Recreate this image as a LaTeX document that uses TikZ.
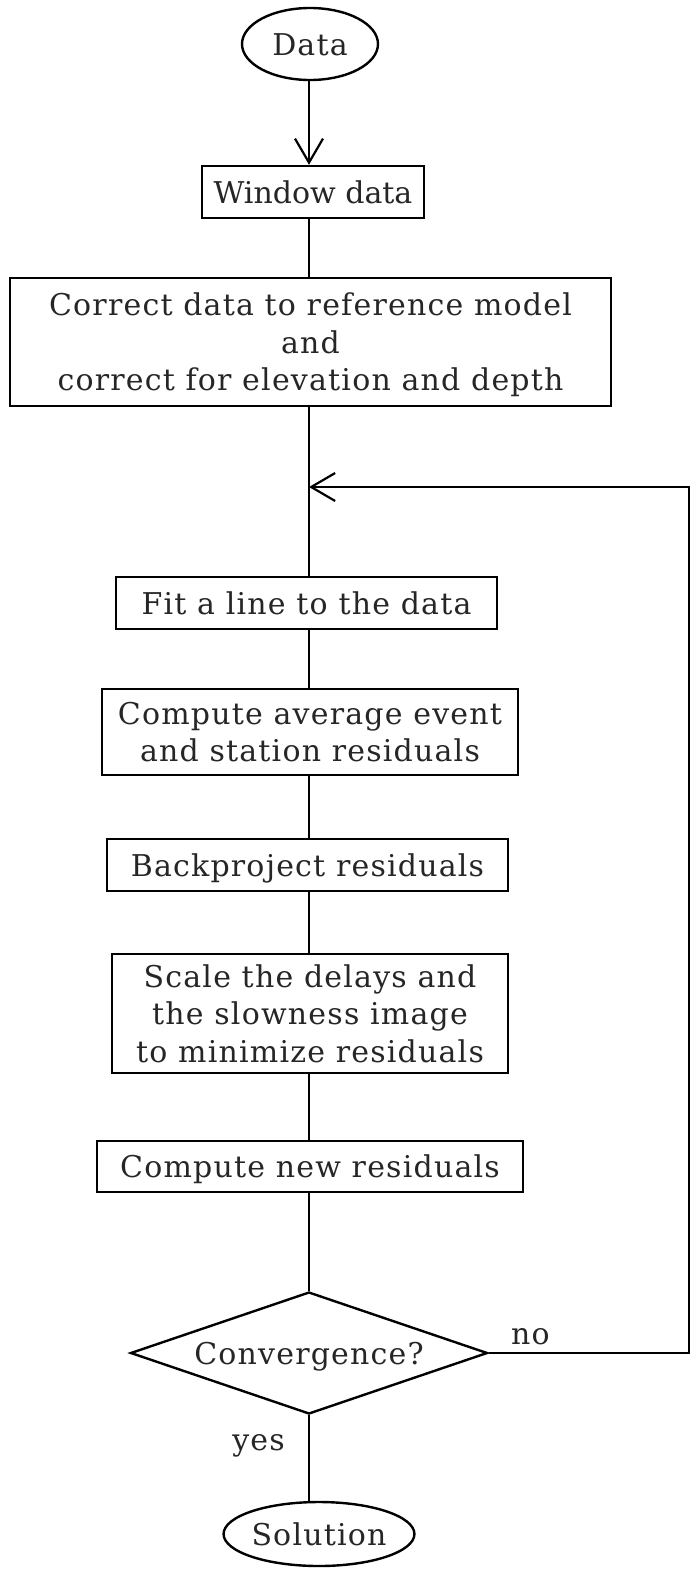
\documentclass[tikz,border=0pt]{standalone}
\usepackage{fontspec}
\setmainfont[LetterSpace=4]{DejaVu Serif}
\usetikzlibrary{shapes.geometric,arrows.meta}
\begin{document}
\begin{tikzpicture}[x=1pt,y=-1pt,
  every node/.style={font=\fontsize{30}{37.5}\selectfont, inner sep=0pt, text=black!85},
  oneline/.style={text height=22pt, text depth=0pt},
  twoline/.style={text height=59.5pt, text depth=0pt},
  threeline/.style={text height=97pt, text depth=0pt},
  tight/.style={font=\fontsize{30}{37.5}\selectfont\addfontfeature{LetterSpace=0}},
  stepbox/.style={draw=black, rectangle, line width=2.4pt, align=center},
  terminal/.style={draw=black, ellipse, line width=2.4pt, oneline},
  decision/.style={draw=black, diamond, aspect=2.93, line width=2.4pt, oneline},
  link/.style={draw=black, line width=2.2pt},
  arr/.style={link, -{Straight Barb[length=24pt,width=28pt,line width=2.2pt]}}]
\useasboundingbox (0,0) rectangle (691,1569);
% spine
\coordinate (sp) at (309,0);
% nodes
\node[terminal, minimum width=136pt, minimum height=72pt] (data) at (310,44) {Data};
\node[stepbox, oneline, tight, minimum width=222pt, minimum height=52pt] (win) at (313,192) {Window data};
\node[stepbox, threeline, minimum width=601pt, minimum height=128pt] (corr) at (310.5,342)
  {Correct data to reference model\\and\\correct for elevation and depth};
\node[stepbox, oneline, minimum width=381pt, minimum height=52pt] (fit) at (306.5,603) {Fit a line to the data};
\node[stepbox, twoline, minimum width=416pt, minimum height=86pt] (avg) at (310,732)
  {Compute average event\\and station residuals};
\node[stepbox, oneline, minimum width=401pt, minimum height=52pt] (back) at (307.5,865) {Backproject residuals};
\node[stepbox, threeline, minimum width=396pt, minimum height=119pt] (scale) at (310,1013.5)
  {Scale the delays and\\the slowness image\\to minimize residuals};
\node[stepbox, oneline, minimum width=426pt, minimum height=51pt] (new) at (310,1166.5) {Compute new residuals};
\node[decision, minimum width=357pt, minimum height=122pt] (conv) at (309,1353) {Convergence?};
\node[terminal, minimum width=188pt, minimum height=64pt] (sol) at (319,1534) {Solution};
\node[anchor=base west] (no) at (511,1344) {no};
\node[anchor=base east] (yes) at (285,1450) {yes};
% connectors
\draw[arr] (data.south -| sp) -- (win.north -| sp);
\draw[link] (win.south -| sp) -- (corr.north -| sp);
\draw[link] (corr.south -| sp) -- (fit.north -| sp);
\draw[link] (fit.south -| sp) -- (avg.north -| sp);
\draw[link] (avg.south -| sp) -- (back.north -| sp);
\draw[link] (back.south -| sp) -- (scale.north -| sp);
\draw[link] (scale.south -| sp) -- (new.north -| sp);
\draw[link] (new.south -| conv.north) -- (conv.north);
\draw[link] (conv.south) -- (conv.south |- sol.north);
% feedback loop
\coordinate (loopR) at (689,1353);
\coordinate (loopT) at (689,487);
\coordinate (join) at (309,487);
\draw[arr] (conv.east) -- (loopR) -- (loopT) -- (join);
\end{tikzpicture}
\end{document}
